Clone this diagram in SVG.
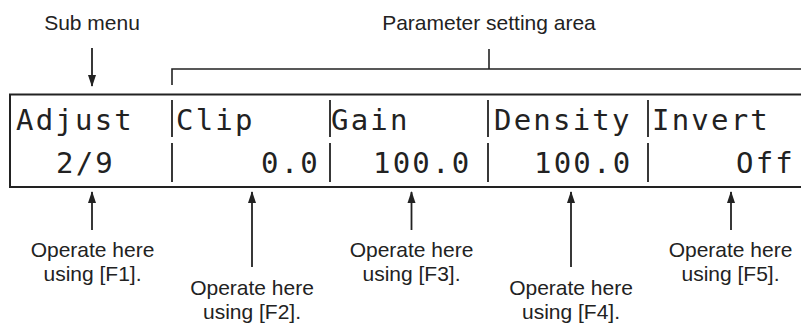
<svg xmlns="http://www.w3.org/2000/svg" width="801" height="323" viewBox="0 0 801 323">
<defs>
<marker id="ah" markerUnits="userSpaceOnUse" markerWidth="12" markerHeight="10" viewBox="0 0 12 10" refX="11" refY="5" orient="auto">
<path d="M0,1 L12,5 L0,9 Z" fill="#222"/>
</marker>
<style>
.lbl{font-family:"Liberation Sans",Arial,sans-serif;font-size:21px;fill:#222;text-anchor:middle}
.lcd{font-family:"DejaVu Sans Mono",monospace;font-size:29px;fill:#222;letter-spacing:2.2px}
.ln{stroke:#222;stroke-width:1.6;fill:none}
.bar{stroke:#222;stroke-width:1.8}
.arr{stroke:#222;stroke-width:1.8;fill:none;marker-end:url(#ah)}
</style>
</defs>
<rect width="801" height="323" fill="#fff"/>

<g id="title-sub">
<text class="lbl" x="92" y="30">Sub menu</text>
</g>
<g id="title-param">
<text class="lbl" x="489" y="29.5">Parameter setting area</text>
</g>

<g id="display">
<rect x="10" y="94.5" width="800" height="92.5" fill="none" stroke="#222" stroke-width="2"/>
<line class="bar" x1="172" y1="100" x2="172" y2="137"/>
<line class="bar" x1="330" y1="100" x2="330" y2="137"/>
<line class="bar" x1="488" y1="100" x2="488" y2="137"/>
<line class="bar" x1="648" y1="100" x2="648" y2="137"/>
<line class="bar" x1="172" y1="143" x2="172" y2="182"/>
<line class="bar" x1="330" y1="143" x2="330" y2="182"/>
<line class="bar" x1="488" y1="143" x2="488" y2="182"/>
<line class="bar" x1="648" y1="143" x2="648" y2="182"/>
<text class="lcd" x="16" y="130">Adjust</text>
<text class="lcd" x="176" y="130">Clip</text>
<text class="lcd" x="331" y="130">Gain</text>
<text class="lcd" x="494" y="130">Density</text>
<text class="lcd" x="652" y="130">Invert</text>
<text class="lcd" x="56" y="173">2/9</text>
<text class="lcd" x="261" y="173">0.0</text>
<text class="lcd" x="373" y="173">100.0</text>
<text class="lcd" x="534" y="173">100.0</text>
<text class="lcd" x="736" y="173">Off</text>
</g>

<g id="f1"><text class="lbl" x="92.5" y="257">Operate here</text><text class="lbl" x="92.5" y="281">using [F1].</text></g>
<g id="f2"><text class="lbl" x="252" y="295">Operate here</text><text class="lbl" x="252" y="319">using [F2].</text></g>
<g id="f3"><text class="lbl" x="411.5" y="257">Operate here</text><text class="lbl" x="411.5" y="281">using [F3].</text></g>
<g id="f4"><text class="lbl" x="571" y="295">Operate here</text><text class="lbl" x="571" y="319">using [F4].</text></g>
<g id="f5"><text class="lbl" x="730.5" y="257">Operate here</text><text class="lbl" x="730.5" y="281">using [F5].</text></g>

<g id="connectors">
<line class="arr" x1="92" y1="48" x2="92" y2="86"/>
<path class="ln" d="M172,85 V69 H805"/>
<line class="ln" x1="489" y1="49" x2="489" y2="69"/>
<line class="arr" x1="92" y1="230" x2="92" y2="192"/>
<line class="arr" x1="252" y1="267" x2="252" y2="192"/>
<line class="arr" x1="411.5" y1="230" x2="411.5" y2="192"/>
<line class="arr" x1="571" y1="267" x2="571" y2="192"/>
<line class="arr" x1="731" y1="230" x2="731" y2="192"/>
</g>
</svg>
